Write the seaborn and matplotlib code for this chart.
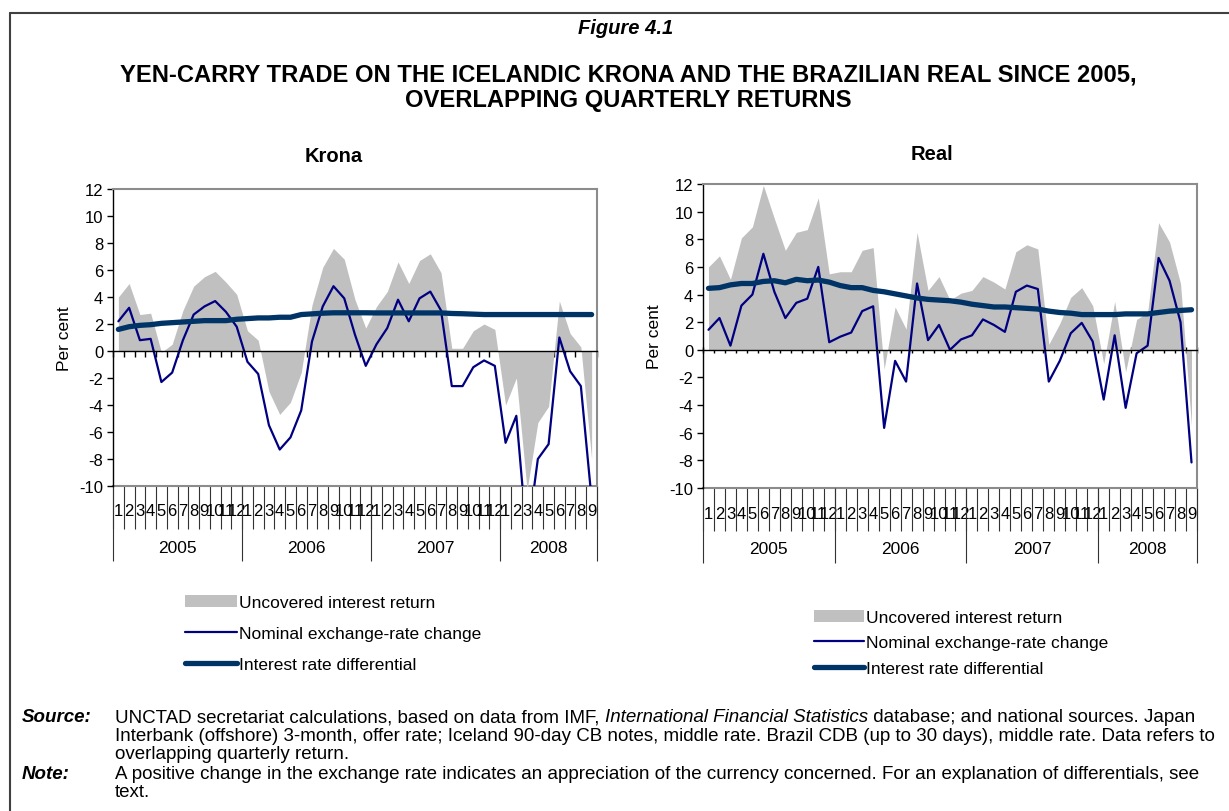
import numpy as np
import pandas as pd
import matplotlib.pyplot as plt
import seaborn as sns
from matplotlib.patches import Patch
from matplotlib.lines import Line2D

# Month labels, Jan 2005 - Sep 2008
years = [2005, 2006, 2007, 2008]
months = [str(m) for y in years for m in range(1, 13)][:45]

# Krona (per cent)
krona_uir = [4.0, 5.0, 2.7, 2.8, -0.1, 0.5, 3.0, 4.8, 5.5, 5.9, 5.1, 4.2,
             1.5, 0.8, -3.0, -4.7, -3.8, -1.6, 3.4, 6.2, 7.6, 6.8, 3.8, 1.7,
             3.3, 4.4, 6.6, 5.0, 6.7, 7.2, 5.8, 0.2, 0.2, 1.5, 2.0, 1.6,
             -4.0, -2.0, -10.3, -5.3, -4.1, 3.7, 1.3, 0.3, -8.0]
krona_fx = [2.2, 3.2, 0.8, 0.9, -2.3, -1.6, 0.8, 2.7, 3.3, 3.7, 2.9, 1.8,
            -0.8, -1.7, -5.5, -7.3, -6.4, -4.4, 0.7, 3.3, 4.8, 3.9, 1.2, -1.1,
            0.5, 1.7, 3.8, 2.2, 3.9, 4.4, 3.0, -2.6, -2.6, -1.2, -0.7, -1.1,
            -6.8, -4.8, -14.0, -8.0, -6.9, 1.0, -1.5, -2.6, -11.0]
krona_diff = [1.6, 1.8, 1.9, 1.95, 2.05, 2.1, 2.15, 2.2, 2.25, 2.25, 2.25, 2.35,
              2.4, 2.45, 2.45, 2.5, 2.5, 2.7, 2.75, 2.8, 2.83, 2.83, 2.83, 2.83,
              2.82, 2.82, 2.82, 2.82, 2.82, 2.82, 2.82, 2.78, 2.76, 2.73, 2.7, 2.7,
              2.7, 2.7, 2.7, 2.7, 2.7, 2.7, 2.7, 2.7, 2.7]

# Real (per cent)
real_uir = [6.0, 6.8, 5.1, 8.1, 8.9, 11.9, 9.5, 7.2, 8.5, 8.7, 11.0, 5.5,
            5.65, 5.65, 7.2, 7.4, -1.4, 3.1, 1.5, 8.5, 4.3, 5.3, 3.6, 4.1,
            4.3, 5.3, 4.9, 4.4, 7.1, 7.6, 7.3, 0.4, 1.9, 3.8, 4.5, 3.2,
            -1.0, 3.5, -1.6, 2.2, 2.7, 9.2, 7.8, 4.8, -5.5]
real_fx = [1.45, 2.3, 0.3, 3.2, 4.0, 6.95, 4.2, 2.3, 3.4, 3.7, 6.0, 0.55,
           0.95, 1.25, 2.8, 3.15, -5.65, -0.8, -2.3, 4.8, 0.7, 1.8, 0.0, 0.75,
           1.05, 2.2, 1.8, 1.3, 4.2, 4.65, 4.4, -2.3, -0.8, 1.2, 1.95, 0.6,
           -3.6, 1.05, -4.2, -0.25, 0.3, 6.65, 5.0, 2.0, -8.15]
real_diff = [4.45, 4.5, 4.7, 4.8, 4.8, 4.95, 5.0, 4.85, 5.1, 5.0, 5.05, 4.9,
             4.65, 4.5, 4.5, 4.3, 4.2, 4.05, 3.9, 3.75, 3.65, 3.6, 3.55, 3.45,
             3.3, 3.2, 3.1, 3.1, 3.05, 3.0, 2.95, 2.8, 2.7, 2.65, 2.55, 2.55,
             2.55, 2.55, 2.6, 2.6, 2.6, 2.7, 2.8, 2.85, 2.9]

labels = ["Uncovered interest return", "Nominal exchange-rate change",
          "Interest rate differential"]

sns.set_style("white")
plt.rcParams['font.family'] = ['Liberation Sans', 'DejaVu Sans']
plt.rcParams['axes.unicode_minus'] = False
for k in ['text.color', 'axes.labelcolor', 'xtick.color', 'ytick.color']:
    plt.rcParams[k] = 'black'

GRAY = '#C0C0C0'
THIN = '#000080'
THICK = '#003366'
W, H = 1229, 812
TICK_FS = 12

fig = plt.figure(figsize=(12.29, 8.12), dpi=100)


def draw_panel(rect, uir, fx, diff, zero_dir, month_pad, year_pad):
    df = pd.DataFrame({'pos': np.arange(len(uir)), 'uir': uir, 'fx': fx, 'diff': diff})
    ax = fig.add_axes(rect)
    ax.fill_between(df['pos'], 0, df['uir'], color=GRAY, lw=0)
    sns.lineplot(data=df, x='pos', y='fx', color=THIN, lw=1.6, ax=ax)
    sns.lineplot(data=df, x='pos', y='diff', color=THICK, lw=3.8,
                 solid_capstyle='round', ax=ax)
    ax.set_xlim(-0.5, len(uir) - 0.5)
    ax.set_ylim(-10, 12)
    ax.set_yticks(range(-10, 13, 2))
    ax.tick_params(axis='y', direction='out', length=4, width=1, color='black',
                   labelsize=TICK_FS, left=True, pad=3)
    ax.set_ylabel("Per cent", fontsize=12.5, labelpad=5)
    ax.set_xlabel("")

    # category axis crossing at zero
    bounds = np.arange(-0.5, len(uir), 1)
    ax.spines['bottom'].set_position(('data', 0))
    ax.spines['bottom'].set_color('black')
    ax.spines['bottom'].set_linewidth(1)
    ax.set_xticks(bounds)
    ax.tick_params(axis='x', direction=zero_dir, length=4, width=1,
                   color='black', labelbottom=False, bottom=True)
    ax.spines['left'].set_color('black')
    ax.spines['left'].set_linewidth(1)
    for s in ['top', 'right']:
        ax.spines[s].set_color('#8C8C8C')
        ax.spines[s].set_linewidth(1.5)

    # month labels row
    sec = ax.secondary_xaxis(0)
    sec.set_xticks(bounds, labels=[''] * len(bounds))
    sec.set_xticks(np.arange(len(uir)), labels=months, minor=True)
    sec.tick_params(which='major', length=31, width=0.8, color='#333333',
                    direction='out')
    sec.tick_params(which='minor', length=0, pad=month_pad, labelsize=TICK_FS)
    sec.spines['bottom'].set_color('#8C8C8C')
    sec.spines['bottom'].set_linewidth(1.5)

    # year labels row
    sec2 = ax.secondary_xaxis(0)
    ybounds = [-0.5, 11.5, 23.5, 35.5, len(uir) - 0.5]
    sec2.set_xticks(ybounds, labels=[''] * len(ybounds))
    sec2.set_xticks([5.5, 17.5, 29.5, 40], labels=[str(y) for y in years], minor=True)
    sec2.tick_params(which='major', length=54, width=0.8, color='#333333',
                     direction='out')
    sec2.tick_params(which='minor', length=0, pad=year_pad, labelsize=12.5)
    sec2.spines['bottom'].set_visible(False)
    return ax


ax1 = draw_panel([113 / W, 1 - 487 / H, 484 / W, 297 / H],
                 krona_uir, krona_fx, krona_diff, 'out', 12.5, 39)
ax2 = draw_panel([703 / W, 1 - 489 / H, 494 / W, 304 / H],
                 real_uir, real_fx, real_diff, 'inout', 13, 38.5)

# titles
fig.text(626 / W, 1 - 28 / H, "Figure 4.1", ha='center', va='center',
         fontsize=14.5, fontweight='bold', fontstyle='italic')
fig.text(628 / W, 1 - 75 / H,
         "YEN-CARRY TRADE ON THE ICELANDIC KRONA AND THE BRAZILIAN REAL SINCE 2005,",
         ha='center', va='center', fontsize=17.1, fontweight='bold')
fig.text(628 / W, 1 - 100 / H, "OVERLAPPING QUARTERLY RETURNS",
         ha='center', va='center', fontsize=17.1, fontweight='bold')
fig.text(334 / W, 1 - 157 / H, "Krona", ha='center', va='center',
         fontsize=14.5, fontweight='bold')
fig.text(932 / W, 1 - 155 / H, "Real", ha='center', va='center',
         fontsize=14.5, fontweight='bold')

# legends
handles = [Patch(facecolor=GRAY, edgecolor='none'),
           Line2D([], [], color=THIN, lw=1.6),
           Line2D([], [], color=THICK, lw=3.8, solid_capstyle='round')]
fig.legend(handles, labels, loc='upper left', bbox_to_anchor=(185 / W, 1 - 596 / H),
           frameon=False, fontsize=12.5, handlelength=3.0, handletextpad=0.1,
           labelspacing=0.9, borderpad=0, borderaxespad=0)
fig.legend(handles, labels, loc='upper left', bbox_to_anchor=(814 / W, 1 - 611 / H),
           frameon=False, fontsize=12.5, handlelength=2.9, handletextpad=0.1,
           labelspacing=0.58, borderpad=0, borderaxespad=0)

# footnotes
fs = 13.5
fig.text(22 / W, 1 - 718 / H, "Source:", fontsize=fs, fontweight='bold',
         fontstyle='italic', va='center')
t1 = fig.text(115 / W, 1 - 718 / H,
              "UNCTAD secretariat calculations, based on data from IMF, ",
              fontsize=fs, va='center')
t2 = fig.text(0, 1 - 718 / H, "International Financial Statistics", fontsize=fs,
              fontstyle='italic', va='center')
t3 = fig.text(0, 1 - 718 / H, " database; and national sources. Japan", fontsize=fs,
              va='center')
fig.canvas.draw()
r = fig.canvas.get_renderer()
t2.set_x(t1.get_window_extent(r).x1 / fig.bbox.width)
fig.canvas.draw()
t3.set_x(t2.get_window_extent(r).x1 / fig.bbox.width)

fig.text(115 / W, 1 - 737 / H,
         "Interbank (offshore) 3-month, offer rate; Iceland 90-day CB notes, middle rate. "
         "Brazil CDB (up to 30 days), middle rate. Data refers to",
         fontsize=fs, va='center')
fig.text(115 / W, 1 - 755 / H, "overlapping quarterly return.", fontsize=fs, va='center')
fig.text(22 / W, 1 - 775 / H, "Note:", fontsize=fs, fontweight='bold',
         fontstyle='italic', va='center')
fig.text(115 / W, 1 - 775 / H,
         "A positive change in the exchange rate indicates an appreciation of the currency "
         "concerned. For an explanation of differentials, see",
         fontsize=fs, va='center')
fig.text(115 / W, 1 - 793 / H, "text.", fontsize=fs, va='center')

# outer frame
fig.add_artist(Line2D([10 / W, 10 / W], [0, 1 - 14 / H], transform=fig.transFigure,
                      color='#404040', lw=1.5))
fig.add_artist(Line2D([10 / W, 1], [1 - 14 / H, 1 - 14 / H], transform=fig.transFigure,
                      color='#404040', lw=1.5))

fig.savefig("out.png", dpi=100)
